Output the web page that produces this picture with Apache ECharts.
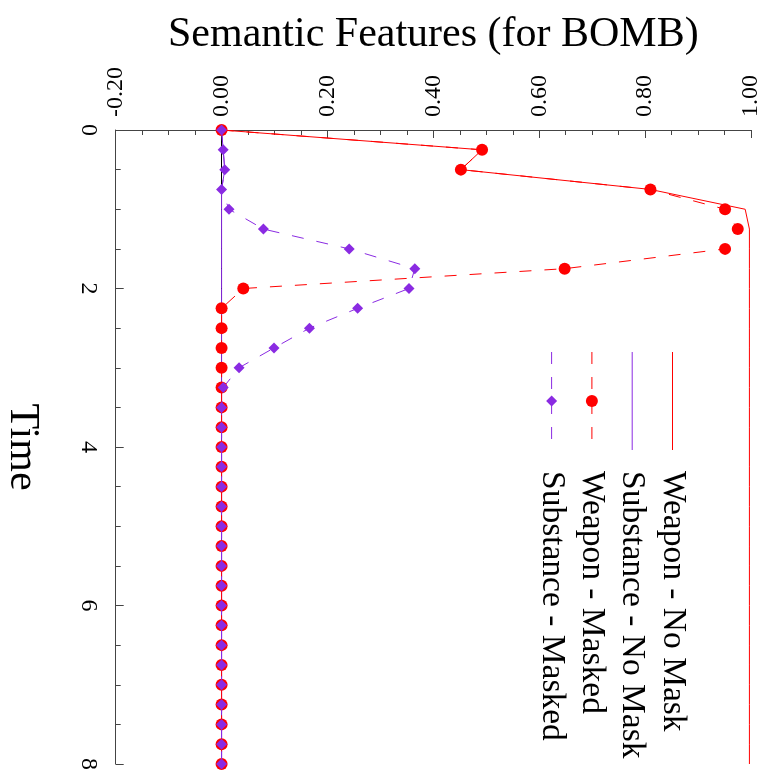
<!DOCTYPE html>
<html>
<head>
<meta charset="utf-8">
<script src="https://cdn.jsdelivr.net/npm/echarts@6/dist/echarts.min.js"></script>
<style>
html,body{margin:0;padding:0;background:#fff;}
#chart{width:768px;height:775px;}
</style>
</head>
<body>
<div id="chart"></div>
<script>
// ---- data ----
var time = [0, 0.25, 0.5, 0.75, 1, 1.25, 1.5, 1.75, 2, 2.25, 2.5, 2.75, 3, 3.25, 3.5, 3.75,
            4, 4.25, 4.5, 4.75, 5, 5.25, 5.5, 5.75, 6, 6.25, 6.5, 6.75, 7, 7.25, 7.5, 7.75, 8];
var weaponNoMask = [0, 0.492, 0.452, 0.81, 0.989, 0.997, 0.997, 0.997, 0.997, 0.997, 0.997, 0.997,
                    0.997, 0.997, 0.997, 0.997, 0.997, 0.997, 0.997, 0.997, 0.997, 0.997, 0.997,
                    0.997, 0.997, 0.997, 0.997, 0.997, 0.997, 0.997, 0.997, 0.997, 0.997];
var substanceNoMask = [0, 0.003, 0.006, 0, 0, 0, 0, 0, 0, 0, 0, 0, 0, 0, 0, 0, 0,
                       0, 0, 0, 0, 0, 0, 0, 0, 0, 0, 0, 0, 0, 0, 0, 0];
var weaponMasked = [0, 0.492, 0.452, 0.81, 0.951, 0.975, 0.951, 0.648, 0.041, 0, 0, 0, 0, 0, 0, 0, 0,
                    0, 0, 0, 0, 0, 0, 0, 0, 0, 0, 0, 0, 0, 0, 0, 0];
var substanceMasked = [0, 0.003, 0.006, 0, 0.014, 0.079, 0.241, 0.365, 0.354, 0.257, 0.166, 0.099,
                       0.033, 0.003, 0, 0, 0, 0, 0, 0, 0, 0, 0, 0, 0, 0, 0, 0, 0, 0, 0, 0, 0];
var seriesNames = ['Weapon - No Mask', 'Substance - No Mask', 'Weapon - Masked', 'Substance - Masked'];
var valueTicks = ['-0.20', '0.00', '0.20', '0.40', '0.60', '0.80', '1.00'];
var valueTitle = 'Semantic Features (for BOMB)';
var timeTitle = 'Time';

// ---- styles ----
var RED = '#ff0000';
var PURPLE = '#8a2be2';
var FONT = '"Liberation Serif", "Times New Roman", serif';
var DASH = [12, 13];

function pairs(vals) {
  return time.map(function (t, i) { return [vals[i], t]; });
}

var chart = echarts.init(document.getElementById('chart'), null, {renderer: 'canvas'});

var legendDefs = [
  {name: seriesNames[0], color: RED, dashed: false, symbol: null},
  {name: seriesNames[1], color: PURPLE, dashed: false, symbol: null},
  {name: seriesNames[2], color: RED, dashed: true, symbol: 'circle'},
  {name: seriesNames[3], color: PURPLE, dashed: true, symbol: 'diamond'}
];
var legendX0 = 672.5, legendStep = 40.3, lineTop = 352, lineBot = 450, textTop = 471;
var graphics = [];
legendDefs.forEach(function (d, i) {
  var x = legendX0 - i * legendStep;
  graphics.push({
    type: 'line', silent: true, z: 100,
    shape: {x1: x, y1: lineTop, x2: x, y2: lineBot},
    style: {stroke: d.color, lineWidth: 1, lineDash: d.dashed ? DASH : null}
  });
  if (d.symbol === 'circle') {
    graphics.push({type: 'circle', silent: true, z: 101,
      shape: {cx: x, cy: (lineTop + lineBot) / 2, r: 6}, style: {fill: d.color}});
  } else if (d.symbol === 'diamond') {
    var cy = (lineTop + lineBot) / 2;
    graphics.push({type: 'polygon', silent: true, z: 101,
      shape: {points: [[x, cy - 5.5], [x + 5.5, cy], [x, cy + 5.5], [x - 5.5, cy]]},
      style: {fill: d.color}});
  }
  graphics.push({
    type: 'text', silent: true, z: 100,
    x: x, y: textTop, rotation: -Math.PI / 2,
    style: {text: d.name, font: '33.5px ' + FONT, fill: '#000',
            textAlign: 'left', textVerticalAlign: 'middle'}
  });
});

var option = {
  animation: false,
  backgroundColor: '#fff',
  grid: {left: 115.7, right: 17, top: 130, bottom: 11, containLabel: false, outerBoundsMode: 'none'},
  xAxis: {
    type: 'value', position: 'top', min: -0.2, max: 1.0, interval: 0.2,
    name: valueTitle, nameLocation: 'middle', nameGap: 74,
    nameTextStyle: {fontFamily: FONT, fontSize: 42, color: '#000'},
    axisLine: {show: true, onZero: false, lineStyle: {color: '#444', width: 1}},
    axisTick: {show: true, inside: true, length: 8, lineStyle: {color: '#444'}},
    minorTick: {show: true, splitNumber: 4, length: 5, lineStyle: {color: '#444'}},
    splitLine: {show: false},
    axisLabel: {
      rotate: -90, margin: 13, fontFamily: FONT, fontSize: 24, color: '#000',
      formatter: function (v) { var i = Math.round((v + 0.2) / 0.2); return valueTicks[i]; }
    }
  },
  yAxis: {
    type: 'value', inverse: true, min: 0, max: 8, interval: 2,
    name: timeTitle, nameLocation: 'middle', nameGap: 73, nameRotate: -90,
    nameTextStyle: {fontFamily: FONT, fontSize: 42, color: '#000'},
    axisLine: {show: true, onZero: false, lineStyle: {color: '#444', width: 1}},
    axisTick: {show: true, inside: true, length: 8, lineStyle: {color: '#444'}},
    minorTick: {show: true, splitNumber: 4, length: 5, lineStyle: {color: '#444'}},
    splitLine: {show: false},
    axisLabel: {rotate: -90, margin: 15, fontFamily: FONT, fontSize: 24, color: '#000'}
  },
  graphic: graphics,
  series: [
    {
      name: seriesNames[0], type: 'line', data: pairs(weaponNoMask),
      symbol: 'none', lineStyle: {color: RED, width: 1}, z: 2,
      markLine: {
        silent: true, symbol: 'none', label: {show: false},
        lineStyle: {color: '#000', width: 1, type: 'solid'},
        data: [{xAxis: 0}], z: 1
      }
    },
    {
      name: seriesNames[1], type: 'line', data: pairs(substanceNoMask),
      symbol: 'none', lineStyle: {color: PURPLE, width: 1}, z: 3
    },
    {
      name: seriesNames[2], type: 'line', data: pairs(weaponMasked),
      symbol: 'circle', symbolSize: 12, showAllSymbol: true,
      itemStyle: {color: RED}, lineStyle: {color: RED, width: 1, type: DASH}, z: 4
    },
    {
      name: seriesNames[3], type: 'line', data: pairs(substanceMasked),
      symbol: 'diamond', symbolSize: 11, showAllSymbol: true,
      itemStyle: {color: PURPLE}, lineStyle: {color: PURPLE, width: 1, type: DASH}, z: 5
    }
  ]
};
chart.setOption(option);
</script>
</body>
</html>
